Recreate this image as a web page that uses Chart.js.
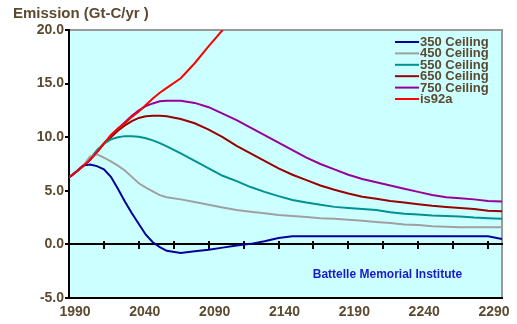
<!DOCTYPE html>
<html>
<head>
<meta charset="utf-8">
<script src="https://cdn.jsdelivr.net/npm/chart.js@4/dist/chart.umd.min.js"></script>
<style>
  html, body { margin: 0; padding: 0; background: #fff; }
  #wrap { width: 517px; height: 324px; position: relative; }
</style>
</head>
<body>
<div id="wrap"><canvas id="myChart"></canvas></div>
<script>
// data
const years = [1990, 1995, 2000, 2005, 2010, 2015, 2020, 2025, 2030, 2035, 2040, 2045, 2050, 2055, 2060,
  2070, 2080, 2090, 2100, 2110, 2120, 2130, 2140, 2150, 2160, 2170, 2180, 2190, 2200,
  2210, 2220, 2230, 2240, 2250, 2260, 2270, 2280, 2290, 2300];

const ceiling350 = [6.25, 6.75, 7.35, 7.45, 7.3, 7.0, 6.3, 5.2, 4.0, 2.9, 1.9, 0.9, 0.2, -0.25, -0.6,
  -0.8, -0.65, -0.5, -0.3, -0.1, 0.05, 0.3, 0.6, 0.75, 0.75, 0.75, 0.75, 0.75, 0.75,
  0.75, 0.75, 0.75, 0.75, 0.75, 0.75, 0.75, 0.75, 0.75, 0.5];
const ceiling450 = [6.25, 6.75, 7.3, 8.2, 8.4, 8.1, 7.75, 7.35, 6.9, 6.3, 5.7, 5.3, 4.95, 4.6, 4.4,
  4.2, 3.95, 3.7, 3.45, 3.2, 3.05, 2.9, 2.75, 2.65, 2.55, 2.45, 2.4, 2.3, 2.2,
  2.1, 2.0, 1.85, 1.8, 1.7, 1.65, 1.6, 1.6, 1.6, 1.6];
const ceiling550 = [6.25, 6.75, 7.3, 7.95, 8.8, 9.4, 9.8, 10.0, 10.1, 10.1, 10.05, 9.9, 9.7, 9.45, 9.15,
  8.5, 7.8, 7.1, 6.4, 5.9, 5.35, 4.9, 4.5, 4.15, 3.9, 3.7, 3.5, 3.4, 3.3,
  3.2, 3.0, 2.85, 2.8, 2.7, 2.65, 2.6, 2.5, 2.45, 2.4];
const ceiling650 = [6.25, 6.75, 7.3, 7.9, 8.6, 9.4, 10.0, 10.6, 11.1, 11.5, 11.8, 11.95, 12.0, 12.0, 11.95,
  11.7, 11.3, 10.7, 10.0, 9.2, 8.5, 7.8, 7.1, 6.5, 6.0, 5.5, 5.1, 4.75, 4.45,
  4.25, 4.05, 3.9, 3.75, 3.6, 3.5, 3.4, 3.3, 3.15, 3.1];
const ceiling750 = [6.25, 6.75, 7.3, 7.9, 8.6, 9.4, 10.1, 10.8, 11.4, 12.0, 12.5, 12.9, 13.15, 13.35, 13.4,
  13.4, 13.2, 12.8, 12.2, 11.6, 10.9, 10.2, 9.5, 8.8, 8.1, 7.5, 7.0, 6.5, 6.1,
  5.8, 5.5, 5.2, 4.9, 4.6, 4.4, 4.3, 4.2, 4.05, 4.0];
const is92a = [6.25, 6.75, 7.3, 7.9, 8.6, 9.4, 10.2, 10.8, 11.3, 11.9, 12.4, 13.0, 13.6, 14.15, 14.6,
  15.5, 16.9, 18.5, 20.0];

const seriesNames = ['350 Ceiling', '450 Ceiling', '550 Ceiling', '650 Ceiling', '750 Ceiling', 'is92a'];
const seriesColors = ['#000099', '#a0a0a0', '#009191', '#990000', '#990099', '#ff0000'];
const xLabels = [1990, 2040, 2090, 2140, 2190, 2240, 2290];
const zeroTicks = [2015, 2040, 2065, 2090, 2115, 2140, 2165, 2190, 2215, 2240, 2265, 2290];
const yTitle = 'Emission (Gt-C/yr )';
const noteText = 'Battelle Memorial Institute';
const notePos = [2218, -2.8];

const brown = '#5c4a30';
const fontFam = "'Liberation Sans', Arial, sans-serif";

function pts(vals) {
  return vals.map((v, i) => ({ x: years[i], y: v }));
}

const allSeries = [ceiling350, ceiling450, ceiling550, ceiling650, ceiling750, is92a];

const plotBack = {
  id: 'plotBack',
  beforeDraw(chart) {
    const { ctx, chartArea: a } = chart;
    ctx.save();
    ctx.fillStyle = '#ccffff';
    ctx.fillRect(a.left, a.top, a.right - a.left, a.bottom - a.top);
    ctx.strokeStyle = '#999999';
    ctx.lineWidth = 2;
    ctx.beginPath();
    ctx.moveTo(a.left, a.top);
    ctx.lineTo(a.right, a.top);
    ctx.lineTo(a.right, a.bottom);
    ctx.stroke();
    ctx.restore();
  }
};

const extras = {
  id: 'extras',
  afterDraw(chart) {
    const { ctx, chartArea: a } = chart;
    ctx.save();
    // title
    ctx.fillStyle = brown;
    ctx.font = 'bold 15px ' + fontFam;
    ctx.textBaseline = 'alphabetic';
    ctx.textAlign = 'left';
    ctx.fillText(yTitle, 13, 18);

    // note
    ctx.fillStyle = '#1a1acc';
    ctx.font = 'bold 12px ' + fontFam;
    ctx.textAlign = 'center';
    ctx.textBaseline = 'middle';
    ctx.fillText(noteText, chart.scales.x.getPixelForValue(notePos[0]), chart.scales.y.getPixelForValue(notePos[1]));

    // legend
    ctx.font = 'bold 13px ' + fontFam;
    ctx.textAlign = 'left';
    chart.data.datasets.forEach((ds, i) => {
      const y = a.top + 12 + i * 11.4;
      ctx.strokeStyle = ds.borderColor;
      ctx.lineWidth = 2;
      ctx.beginPath();
      ctx.moveTo(a.right - 107, y);
      ctx.lineTo(a.right - 83, y);
      ctx.stroke();
      ctx.fillStyle = brown;
      ctx.fillText(ds.label, a.right - 82, y + 0.5);
    });
    ctx.restore();
  }
};

new Chart(document.getElementById('myChart'), {
  type: 'line',
  data: {
    datasets: allSeries.map((vals, i) => ({
      label: seriesNames[i],
      data: pts(vals),
      borderColor: seriesColors[i],
      borderWidth: 2,
      pointRadius: 0,
      tension: 0,
      fill: false,
      order: i === 5 ? -1 : i
    }))
  },
  options: {
    responsive: true,
    maintainAspectRatio: false,
    animation: false,
    layout: { padding: { top: 30, right: 15, left: 0, bottom: 0 } },
    plugins: {
      legend: { display: false },
      tooltip: { enabled: false }
    },
    scales: {
      x: {
        type: 'linear',
        min: 1990,
        max: 2300,
        afterBuildTicks: s => { s.ticks = xLabels.map(v => ({ value: v })); },
        afterFit: s => { s.height = 26; },
        ticks: {
          color: brown,
          font: { family: fontFam, size: 14, weight: 'bold' },
          padding: 6,
          labelOffset: 6,
          maxRotation: 0,
          autoSkip: false,
          callback: v => String(v)
        },
        grid: { display: false, drawTicks: false },
        border: { display: true, color: '#000', width: 2 }
      },
      xz: {
        type: 'linear',
        axis: 'x',
        position: { y: 0 },
        min: 1990,
        max: 2300,
        afterBuildTicks: s => { s.ticks = zeroTicks.map(v => ({ value: v })); },
        ticks: { display: false },
        grid: { drawOnChartArea: false, drawTicks: true, tickLength: 4, color: '#000', lineWidth: 2 },
        border: { display: true, color: '#000', width: 2 }
      },
      xz2: {
        type: 'linear',
        axis: 'x',
        position: { y: 0 },
        min: 1990,
        max: 2300,
        afterBuildTicks: s => { s.ticks = zeroTicks.map(v => ({ value: v })); },
        ticks: { display: false },
        grid: { drawOnChartArea: false, drawTicks: true, tickLength: -3, color: '#000', lineWidth: 2 },
        border: { display: false }
      },
      y: {
        min: -5,
        max: 20,
        afterFit: s => { s.width = 69; },
        ticks: {
          stepSize: 5,
          color: brown,
          font: { family: fontFam, size: 14, weight: 'bold' },
          padding: 1,
          callback: v => v.toFixed(1)
        },
        grid: { drawOnChartArea: false, drawTicks: true, tickLength: 4, color: '#000', lineWidth: 2 },
        border: { display: true, color: '#000', width: 2 }
      }
    }
  },
  plugins: [plotBack, extras]
});
</script>
</body>
</html>
